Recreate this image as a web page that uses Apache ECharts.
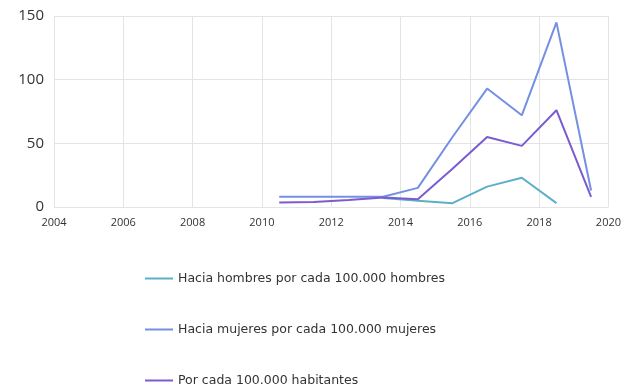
<!DOCTYPE html>
<html><head><meta charset="utf-8">
<script src="https://cdn.jsdelivr.net/npm/echarts@6/dist/echarts.min.js"></script>
<style>html,body{margin:0;padding:0;background:#fff}#c{width:624px;height:389px}</style>
</head><body><div id="c"></div>
<script>
const seriesNames = ["Hacia hombres por cada 100.000 hombres","Hacia mujeres por cada 100.000 mujeres","Por cada 100.000 habitantes"];
const yearsMen = [2013.5, 2014.5, 2015.5, 2016.5, 2017.5, 2018.5];
const valuesMen = [7, 5, 3, 16, 23, 3];
const yearsAll = [2010.5, 2011.5, 2012.5, 2013.5, 2014.5, 2015.5, 2016.5, 2017.5, 2018.5, 2019.5];
const valuesWomen = [8, 8, 8, 8, 15, 55, 93, 72, 145, 13];
const valuesTotal = [3.5, 4, 5.5, 7.5, 6, 30, 55, 48, 76, 8];
const xTicks = [2004, 2020, 2];
const yTicks = [0, 150, 50];

const pair = (xs, vs) => xs.map((x, i) => [x, vs[i]]);
const colors = ['#5cafc9', '#7590e2', '#7b5bd2'];
const chart = echarts.init(document.getElementById('c'));
chart.setOption({
  animation: false,
  color: colors,
  grid: {left: 54, right: 15, top: 16, bottom: 182},
  xAxis: {type: 'value', min: xTicks[0], max: xTicks[1], interval: xTicks[2],
    axisLine: {show: false}, axisTick: {show: false},
    splitLine: {show: true, lineStyle: {color: '#e4e4e4'}},
    axisLabel: {color: '#333', fontSize: 11, fontFamily: 'Open Sans', margin: 10, formatter: v => String(v)}},
  yAxis: {type: 'value', min: yTicks[0], max: yTicks[1], interval: yTicks[2],
    axisLine: {show: false}, axisTick: {show: false},
    splitLine: {show: true, lineStyle: {color: '#e4e4e4'}},
    axisLabel: {color: '#333', fontSize: 15, fontFamily: 'Open Sans', margin: 10}},
  legend: {orient: 'vertical', left: 145, top: 272, height: 117, padding: 0, itemGap: 38, itemWidth: 28, itemHeight: 14,
    icon: 'path://M0,6 L28,6 L28,8 L0,8 Z',
    textStyle: {color: '#333', fontSize: 12.5, fontFamily: 'DejaVu Sans'},
    data: seriesNames},
  series: [
    {name: seriesNames[0], type: 'line', data: pair(yearsMen, valuesMen), showSymbol: false, lineStyle: {width: 2}},
    {name: seriesNames[1], type: 'line', data: pair(yearsAll, valuesWomen), showSymbol: false, lineStyle: {width: 2}},
    {name: seriesNames[2], type: 'line', data: pair(yearsAll, valuesTotal), showSymbol: false, lineStyle: {width: 2}}
  ]
});
</script></body></html>
